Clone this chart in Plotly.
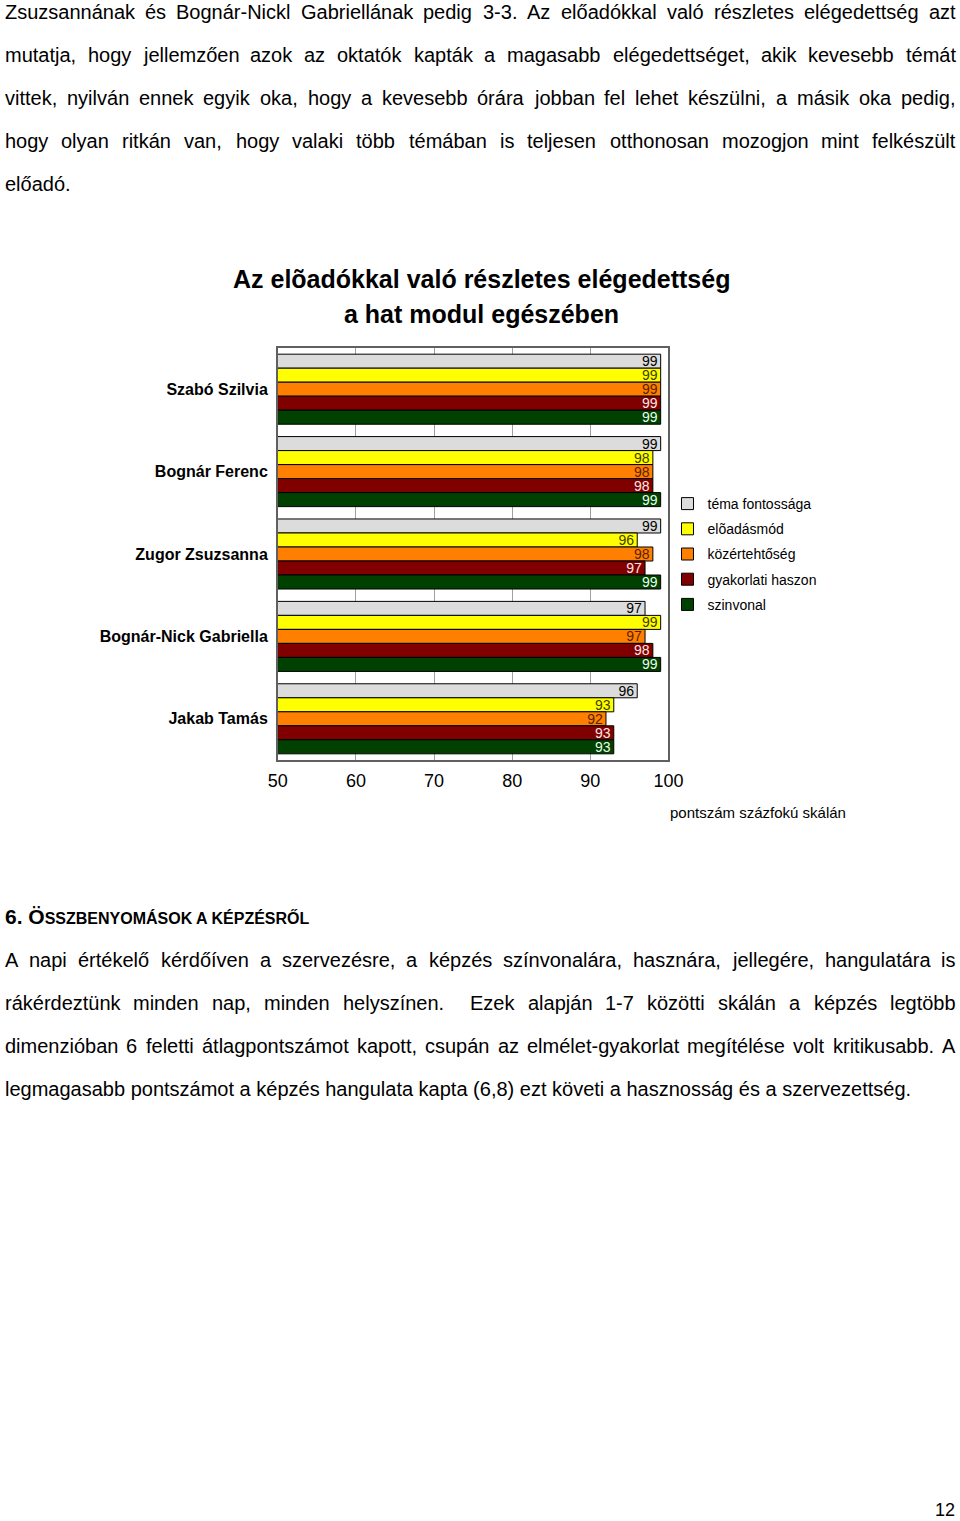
import plotly.graph_objects as go

W, H = 960, 1521

categories = ["Szabó Szilvia", "Bognár Ferenc", "Zugor Zsuzsanna",
              "Bognár-Nick Gabriella", "Jakab Tamás"]
series_names = ["téma fontossága", "elõadásmód", "közértehtőség",
                "gyakorlati haszon", "szinvonal"]
tema = [99, 99, 99, 97, 96]
eloadasmod = [99, 98, 96, 99, 93]
kozerthetoseg = [99, 98, 98, 97, 92]
gyakorlati = [99, 98, 97, 98, 93]
szinvonal = [99, 99, 99, 99, 93]
series_values = [tema, eloadasmod, kozerthetoseg, gyakorlati, szinvonal]
x_ticks = [50, 60, 70, 80, 90, 100]

para1 = [
    "Zsuzsannának és Bognár-Nickl Gabriellának pedig 3-3. Az előadókkal való részletes elégedettség azt",
    "mutatja, hogy jellemzően azok az oktatók kapták a magasabb elégedettséget, akik kevesebb témát",
    "vittek, nyilván ennek egyik oka, hogy a kevesebb órára jobban fel lehet készülni, a másik oka pedig,",
    "hogy olyan ritkán van, hogy valaki több témában is teljesen otthonosan mozogjon mint felkészült",
    "előadó.",
]
para2 = [
    "A napi értékelő kérdőíven a szervezésre, a képzés színvonalára, hasznára, jellegére, hangulatára is",
    "rákérdeztünk minden nap, minden helyszínen.  Ezek alapján 1-7 közötti skálán a képzés legtöbb",
    "dimenzióban 6 feletti átlagpontszámot kapott, csupán az elmélet-gyakorlat megítélése volt kritikusabb. A",
    "legmagasabb pontszámot a képzés hangulata kapta (6,8) ezt követi a hasznosság és a szervezettség.",
]

colors = ["#dcdcdc", "#ffff00", "#ff8000", "#800000", "#004000"]
text_colors = ["#000000", "#404000", "#5a2000", "#ffe6e6", "#e6ffe6"]

SANS = "Liberation Sans, Arial, sans-serif"

# the page is displayed with an effective drawing width slightly below 960
OFF, EFF_W = 8.4, 938.0

def sx(xs):
    return (xs - OFF) / EFF_W

def px2y(py):
    return 1 - py / H

fig = go.Figure()
for i, (name, vals) in enumerate(zip(series_names, series_values)):
    fig.add_trace(go.Bar(
        y=categories, x=vals, name=name, orientation="h",
        marker=dict(color=colors[i], line=dict(color="#000000", width=1)),
        text=[str(v) for v in vals], textposition="inside",
        insidetextanchor="end", textangle=0, constraintext="none",
        textfont=dict(family=SANS, size=14, color=text_colors[i]),
        legendgroup=name, cliponaxis=False,
    ))

fig.update_layout(
    width=W, height=H, autosize=False, margin=dict(l=0, r=0, t=0, b=0),
    paper_bgcolor="white", plot_bgcolor="white",
    barmode="group", bargap=0.15, bargroupgap=0,
    showlegend=True,
    legend=dict(x=sx(668), y=px2y(488), xanchor="left", yanchor="top",
                font=dict(family=SANS, size=14, color="#000"),
                traceorder="grouped", tracegroupgap=4, itemwidth=30,
                bgcolor="rgba(0,0,0,0)"),
    xaxis=dict(domain=[sx(277), sx(669)], range=[50, 100], tickvals=x_ticks,
               showgrid=True, gridcolor="#a0a0a0", gridwidth=1,
               showline=True, mirror=True, linecolor="#606060", linewidth=1.5,
               ticks="", tickfont=dict(family=SANS, size=18, color="#000"),
               ticklabelstandoff=4, zeroline=False, fixedrange=True),
    yaxis=dict(domain=[px2y(760), px2y(348)], autorange="reversed",
               showline=True, mirror=True, linecolor="#606060", linewidth=1.5,
               ticks="", tickfont=dict(family=SANS, size=16, color="#000",
                                        weight="bold"),
               ticklabelstandoff=5, showgrid=False, fixedrange=True),
)

# Arial / Liberation Sans advance widths (per 1000 em) for justification
AW = {" ": 278, ",": 278, ".": 278, "-": 333, "(": 333, ")": 333,
      "A": 667, "B": 667, "C": 722, "D": 722, "E": 667, "F": 611, "G": 778,
      "H": 722, "I": 278, "J": 500, "K": 667, "L": 556, "M": 833, "N": 722,
      "O": 778, "P": 667, "Q": 778, "R": 722, "S": 667, "T": 611, "U": 722,
      "V": 667, "W": 944, "X": 667, "Y": 667, "Z": 611,
      "a": 556, "b": 556, "c": 500, "d": 556, "e": 556, "f": 278, "g": 556,
      "h": 556, "i": 222, "j": 222, "k": 500, "l": 222, "m": 833, "n": 556,
      "o": 556, "p": 556, "q": 556, "r": 333, "s": 500, "t": 278, "u": 556,
      "v": 500, "w": 722, "x": 500, "y": 500, "z": 500,
      "á": 556, "é": 556, "í": 278, "ó": 556, "ö": 556, "ő": 556, "õ": 556,
      "ú": 556, "ü": 556, "ű": 556}

def text_w(s, size):
    return sum(AW.get(c, 556) for c in s) * size / 1000.0

annotations = []

def add_text(txt, x, y, size=20, anchor="left", bold=False):
    annotations.append(dict(
        text=("<b>%s</b>" % txt) if bold else txt, xref="paper", yref="paper",
        x=sx(x), y=px2y(y), xanchor=anchor, yanchor="middle", align=anchor,
        borderpad=0, showarrow=False,
        font=dict(family=SANS, size=size, color="#000")))

BODY = 20
LEFT, RIGHT = 2, 956

def add_paragraph(lines, y0):
    for k, line in enumerate(lines):
        y = y0 + 43 * k
        if k == len(lines) - 1:
            add_text(line, LEFT, y, size=BODY)
            continue
        words = line.split(" ")
        total = sum(text_w(w, BODY) for w in words)
        gap = max((RIGHT - LEFT - total) / (len(words) - 1), 3)
        x = LEFT
        for w in words:
            if w:
                add_text(w, x, y, size=BODY)
            x += text_w(w, BODY) + gap

add_paragraph(para1, 12)

# chart title
add_text("Az elõadókkal való részletes elégedettség", 481, 279, size=25, anchor="center", bold=True)
add_text("a hat modul egészében", 481, 314, size=25, anchor="center", bold=True)

# axis title
add_text("pontszám százfokú skálán", 670, 812, size=15)

# heading
annotations.append(dict(
    text="<b>6. Ö<span style='font-size:16px'>SSZBENYOMÁSOK A KÉPZÉSRŐL</span></b>",
    xref="paper", yref="paper", x=sx(2), y=px2y(916), xanchor="left",
    yanchor="middle", align="left", borderpad=0, showarrow=False,
    font=dict(family=SANS, size=21, color="#000")))

add_paragraph(para2, 960)

add_text("12", 957, 1510, size=18, anchor="right")

fig.update_layout(annotations=annotations)
fig.write_html("out.html")
